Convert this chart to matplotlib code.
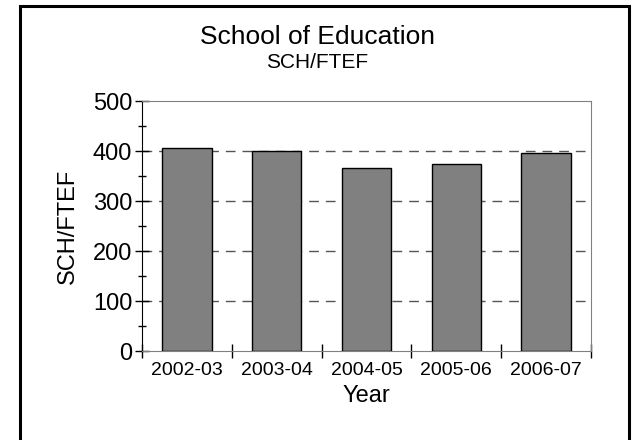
import matplotlib
matplotlib.use("Agg")
import matplotlib.pyplot as plt
from matplotlib.patches import Rectangle

plt.rcParams['font.family'] = ['Liberation Sans', 'DejaVu Sans']

years = ["2002-03", "2003-04", "2004-05", "2005-06", "2006-07"]
sch_ftef = [405, 399, 365, 373, 396]

W, H = 635, 440
fig = plt.figure(figsize=(W / 100, H / 100), dpi=100)

# outer frame (open at the bottom, like the reference)
fig.patches.append(Rectangle((19.5 / W, -0.1), (629 - 19.5) / W, 1.1 - 6.5 / H,
                             transform=fig.transFigure, fill=False,
                             edgecolor='black', linewidth=2.2))

ax = fig.add_axes([142 / W, 1 - 351 / H, (591 - 142) / W, 250 / H])

x = range(len(years))
ax.bar(x, sch_ftef, width=0.55, color='#808080', edgecolor='black', linewidth=1, zorder=3)

ax.set_xlim(-0.5, len(years) - 0.5)
ax.set_ylim(0, 500)
ax.set_yticks([0, 100, 200, 300, 400, 500])
ax.set_yticks(range(50, 500, 100), minor=True)
ax.set_xticks(x)
ax.set_xticklabels(years, fontsize=14)
ax.set_xticks([i + 0.5 for i in range(-1, len(years))], minor=True)
ax.tick_params(axis='x', which='major', length=0, pad=8)
ax.tick_params(axis='x', which='minor', direction='inout', length=10, width=1, color='black')
ax.tick_params(axis='y', which='major', direction='inout', length=10, width=1, labelsize=17, pad=2)
ax.tick_params(axis='y', which='minor', direction='inout', length=6, width=1)

for yv in [100, 200, 300, 400]:
    ax.axhline(yv, color='#555555', linestyle=(0, (7, 5)), linewidth=1, zorder=1)

ax.spines['left'].set_color('black')
for s in ['top', 'right', 'bottom']:
    ax.spines[s].set_color('#808080')

ax.set_ylabel("SCH/FTEF", fontsize=17, labelpad=10)
ax.set_xlabel("Year", fontsize=17, labelpad=4)

fig.text(0.5, 1 - 37 / H, "School of Education", ha='center', va='center', fontsize=19)
fig.text(0.5, 1 - 63 / H, "SCH/FTEF", ha='center', va='center', fontsize=15)

fig.savefig("out.png", dpi=100)
